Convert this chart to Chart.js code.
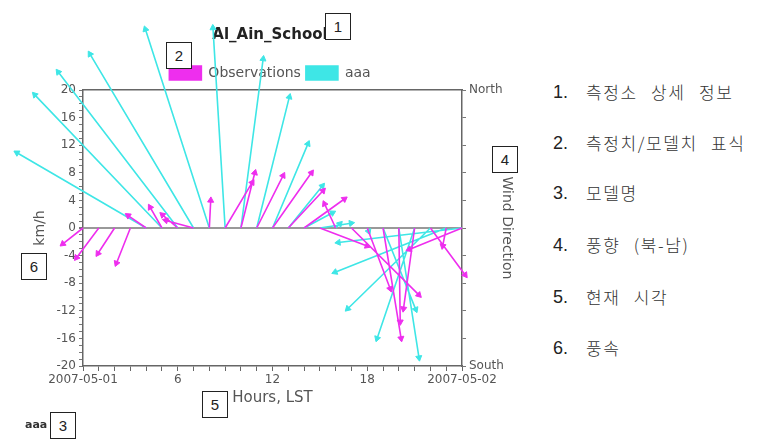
<!DOCTYPE html>
<html>
<head>
<meta charset="utf-8">
<script src="https://cdn.jsdelivr.net/npm/chart.js@4"></script>
<style>
  body { margin: 0; background: #fff; width: 783px; height: 445px; position: relative; overflow: hidden; }
  #wrap { position: absolute; left: 0; top: 0; width: 540px; height: 445px; }
  .box { position: absolute; width: 24px; height: 25px; border: 1px solid #222; background: #fff;
         font: 15px "Liberation Sans", Arial, sans-serif; line-height: 25px; text-align: center; color: #222; }
  .model { position: absolute; left: 25px; top: 418px; font: bold 11px "DejaVu Sans", sans-serif; color: #333; }
  .row { position: absolute; left: 553px; height: 24px; line-height: 24px; font-size: 18px; color: #222;
         font-family: "Liberation Sans", "Noto Sans CJK KR", sans-serif; white-space: nowrap; }
  .row span { position: absolute; left: 33px; letter-spacing: 1.6px; word-spacing: 8px;
              font-family: "Noto Sans CJK KR", sans-serif; font-size: 17px; font-weight: 300; color: #333; }
</style>
</head>
<body>
<div id="wrap"><canvas id="chart"></canvas></div>

<div class="box" style="left:325px;top:13px">1</div>
<div class="box" style="left:166px;top:42px">2</div>
<div class="box" style="left:50px;top:412px">3</div>
<div class="box" style="left:492px;top:146px">4</div>
<div class="box" style="left:202px;top:391px">5</div>
<div class="box" style="left:21px;top:253px">6</div>
<div class="model">aaa</div>

<div class="row" style="top:80px">1.<span>측정소 상세 정보</span></div>
<div class="row" style="top:131px">2.<span>측정치/모델치 표식</span></div>
<div class="row" style="top:181px">3.<span>모델명</span></div>
<div class="row" style="top:233px">4.<span>풍향 (북-남)</span></div>
<div class="row" style="top:285px">5.<span>현재 시각</span></div>
<div class="row" style="top:336px">6.<span>풍속</span></div>

<script>
// ---------------------------------------
// wind vectors (km/h), one per hour LST
// ---------------------------------------
const hours = [0, 1, 2, 3, 4, 5, 6, 7, 8, 9, 10, 11, 12, 13, 14, 15, 16, 17, 18, 19, 20, 21, 22, 23, 24];

const obsU = [-2.9, -3.2, -2.4, -2.0, -2.6, -1.7, -2.2, -4.0, 0.2, 3.9, 2.0, 3.8, 5.6,
              5.0, 5.8, 6.8, -1.6, 9.7, 3.3, 2.6, 0.2, -1.6, 5.0, -0.5, -7.6];
const obsV = [-2.3, -4.3, -3.7, -5.1, 1.8, 3.0, 1.9, 1.1, 4.0, 6.6, 8.0, 7.6, 8.0,
              5.4, 4.2, -2.6, 3.5, -9.7, -8.8, -16.0, -13.6, -11.7, -6.8, -2.6, -3.1];

const aaaU = [null, null, null, null, -18.6, -18.3, -17.2, -14.9, -9.2, -1.75, 3.2, 4.7, 5.1,
              4.9, 4.1, 4.5, 0.6, null, 0.2, 4.7, 2.9, -5.4, -11.9, -16.0, -17.8];
const aaaV = [null, null, null, null, 10.9, 19.3, 22.6, 25.2, 28.8, 29.0, 24.5, 19.0, 12.2,
              6.1, 2.2, 0.7, 0.6, null, -0.5, -11.8, -18.8, -16.0, -11.7, -6.4, -2.1];

const seriesNames = ["Observations", "aaa"];
const tickHours = [0, 6, 12, 18, 24];
const tickNames = ["2007-05-01", "6", "12", "18", "2007-05-02"];

// hours per km/h so the arrow keeps its true direction on screen
const HOURS_PER_KMH = 0.44;

const MAGENTA = "#ee2eee";
const CYAN = "#3ee6e6";

function arrows(u, v) {
  const pts = [];
  hours.forEach((h, i) => {
    if (u[i] === null || v[i] === null) return;
    pts.push({ x: h, y: 0 });
    pts.push({ x: h + u[i] * HOURS_PER_KMH, y: v[i], tip: true,
               rot: Math.atan2(u[i], v[i]) * 180 / Math.PI });
    pts.push({ x: h, y: null });
  });
  return pts;
}

function vectorSet(label, u, v, color) {
  return {
    label,
    data: arrows(u, v),
    borderColor: color,
    backgroundColor: color,
    borderWidth: 1.6,
    spanGaps: false,
    clip: false,
    pointStyle: "triangle",
    pointRadius: ctx => (ctx.raw && ctx.raw.tip ? 3.5 : 0),
    pointHoverRadius: 0,
    pointRotation: ctx => (ctx.raw && ctx.raw.rot) || 0,
    pointBackgroundColor: color,
    pointBorderColor: color,
    pointBorderWidth: 1
  };
}

// the controller skips points outside the chart area; draw those arrow heads here
const outsideTips = {
  id: "outsideTips",
  afterDatasetsDraw(chart) {
    const a = chart.chartArea;
    const wide = { left: -1e4, top: -1e4, right: 1e4, bottom: 1e4 };
    chart.data.datasets.forEach((ds, i) => {
      chart.getDatasetMeta(i).data.forEach((pt, j) => {
        const raw = ds.data[j];
        if (!raw || !raw.tip) return;
        const m = 4.5;
        const inside = pt.x > a.left - m && pt.x < a.right + m && pt.y > a.top - m && pt.y < a.bottom + m;
        if (!inside) pt.draw(chart.ctx, wide);
      });
    });
  }
};

Chart.defaults.font.family = "DejaVu Sans";
Chart.defaults.color = "#555";

new Chart(document.getElementById("chart").getContext("2d"), {
  type: "line",
  data: {
    datasets: [
      vectorSet(seriesNames[0], obsU, obsV, MAGENTA),
      vectorSet(seriesNames[1], aaaU, aaaV, CYAN)
    ]
  },
  plugins: [outsideTips],
  options: {
    responsive: true,
    maintainAspectRatio: false,
    animation: false,
    events: [],
    layout: { padding: { left: 0, right: 0, top: 0, bottom: 37 } },
    plugins: {
      title: {
        display: true,
        text: "Al_Ain_School",
        color: "#222",
        font: { size: 15, weight: "bold" },
        padding: { top: 26, bottom: 17 }
      },
      legend: {
        position: "top",
        labels: {
          boxWidth: 32,
          boxHeight: 14,
          padding: 5,
          color: "#555",
          font: { size: 14 }
        }
      },
      tooltip: { enabled: false }
    },
    scales: {
      x: {
        type: "linear",
        min: 0,
        max: 24,
        afterFit: s => { s.height = 42; },
        ticks: {
          stepSize: 1,
          autoSkip: false,
          maxRotation: 0,
          padding: 2,
          color: "#555",
          font: { size: 12 },
          callback: value => {
            const i = tickHours.indexOf(value);
            return i >= 0 ? tickNames[i] : "";
          }
        },
        grid: { drawOnChartArea: false, tickLength: 5, tickColor: "#666" },
        border: { display: true, color: "#666", width: 1.5 },
        title: {
          display: true,
          text: "Hours, LST",
          color: "#555",
          font: { size: 15 },
          padding: { top: 1, bottom: 1 }
        }
      },
      x2: {
        type: "linear",
        position: "top",
        min: 0,
        max: 24,
        afterFit: s => { s.height = 0; },
        ticks: { display: false },
        grid: { display: false, drawTicks: false },
        border: { display: true, color: "#666", width: 1.5 }
      },
      y: {
        type: "linear",
        position: "left",
        min: -20,
        max: 20,
        afterFit: s => { s.width = 83; },
        ticks: {
          stepSize: 1,
          autoSkip: false,
          padding: 3,
          color: "#555",
          font: { size: 12 },
          callback: value => (value % 4 === 0 ? String(value) : "")
        },
        grid: {
          drawOnChartArea: true,
          tickLength: 4,
          tickColor: "#777",
          color: ctx => (ctx.tick && ctx.tick.value === 0 ? "#999" : "rgba(0,0,0,0)"),
          lineWidth: ctx => (ctx.tick && ctx.tick.value === 0 ? 2 : 1)
        },
        border: { display: true, color: "#666", width: 1.5 },
        title: {
          display: true,
          text: "km/h",
          color: "#555",
          font: { size: 14 },
          padding: { top: 32, bottom: 32 }
        }
      },
      y2: {
        type: "linear",
        position: "right",
        min: -20,
        max: 20,
        afterFit: s => { s.width = 78; },
        ticks: {
          stepSize: 4,
          autoSkip: false,
          padding: 3,
          color: "#555",
          font: { size: 12 },
          callback: value => (value === 20 ? "North" : value === -20 ? "South" : "")
        },
        grid: { drawOnChartArea: false, tickLength: 4, tickColor: "#777" },
        border: { display: true, color: "#666", width: 1.5 },
        title: {
          display: true,
          text: "Wind Direction",
          color: "#555",
          font: { size: 14 },
          padding: { top: 25, bottom: 25 }
        }
      }
    }
  }
});
</script>
</body>
</html>
